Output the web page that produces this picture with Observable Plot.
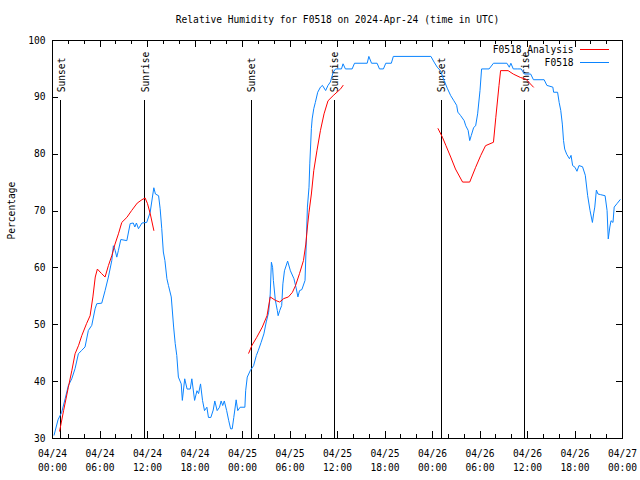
<!DOCTYPE html>
<html><head><meta charset="utf-8">
<script src="https://cdn.jsdelivr.net/npm/d3@7"></script>
<script src="https://cdn.jsdelivr.net/npm/@observablehq/plot@0.6"></script>
<style>body{margin:0;background:#fff}</style>
</head><body><div id="chart"></div>
<script>
const titleText = "Relative Humidity for F0518 on 2024-Apr-24 (time in UTC)";
const yLabelText = "Percentage";
const seriesNames = ["F0518_Analysis", "F0518"];
const seriesColors = ["#ff0000", "#0a84ff"];

// hours since 2024-04-24 00:00 UTC
const obsHours = [0.2,0.7,1.16,1.6,2.0,2.43,2.85,3.27,3.69,4.11,4.53,4.96,5.38,5.59,6.22,6.64,7.06,7.49,7.69,7.91,8.12,8.33,8.63,9.39,9.81,10.2,10.4,10.6,10.86,11.3,11.9,12.34,12.68,12.8,13.0,13.4,13.6,13.8,14.0,14.2,14.45,14.65,15.0,15.3,15.5,15.7,15.9,16.26,16.4,16.7,17.0,17.4,17.6,17.95,18.25,18.45,18.7,18.95,19.2,19.5,19.7,20.0,20.3,20.5,20.8,21.1,21.3,21.5,21.7,22.0,22.25,22.5,22.7,22.9,23.2,23.4,23.7,24.3,24.4,24.6,25.0,25.4,25.75,26.0,26.35,26.7,27.0,27.3,27.5,27.65,27.8,27.9,28.15,28.4,28.5,28.7,28.95,29.1,29.3,29.7,30.05,30.5,30.8,31.0,31.2,31.5,31.9,32.2,32.4,32.5,32.7,32.8,33.0,33.2,33.5,33.85,34.1,34.5,34.8,35.1,35.45,35.75,36.5,36.7,37.0,37.85,38.15,39.75,39.96,40.3,41.0,41.3,41.8,42.1,42.8,43.05,47.8,48.2,48.6,49.0,49.45,49.9,50.3,50.7,51.05,51.2,51.55,52.0,52.2,52.5,52.7,52.9,53.2,53.45,53.7,54.0,54.2,55.15,55.7,57.4,57.7,57.9,58.2,58.7,59.2,59.6,60.4,60.75,62.1,62.45,63.2,63.3,63.8,64.0,64.2,64.4,64.55,64.7,64.95,65.3,65.5,65.7,66.0,66.25,66.5,66.95,67.3,67.6,67.9,68.2,68.35,68.5,68.7,68.9,69.2,69.8,70.05,70.2,70.4,70.55,70.8,70.95,71.3,71.7];
const obsValues = [30.6,33.3,34.6,37.0,39.3,40.5,42.3,44.9,45.5,46.1,49.0,49.9,52.8,53.7,53.8,56.0,58.4,61.3,63.9,63.1,61.9,63.1,65.0,64.8,67.8,67.9,67.2,67.9,66.9,67.9,68.0,69.8,73.0,74.1,73.0,72.7,70.4,66.9,62.8,61.3,58.1,56.9,54.9,49.6,46.7,44.6,40.8,39.6,36.7,40.5,38.7,38.7,40.5,36.7,38.4,37.9,39.6,36.7,34.9,35.5,33.7,33.7,35.0,36.6,34.9,35.5,36.6,35.8,36.6,34.9,33.2,31.7,31.7,33.7,36.8,34.9,35.5,35.5,38.4,40.8,42.0,42.8,44.6,45.5,46.9,48.4,50.5,52.2,55.4,61.0,60.1,57.8,54.3,52.5,51.6,52.5,53.4,57.2,59.5,61.2,59.5,58.1,56.3,54.9,56.0,56.2,57.8,70.7,74.2,78.3,84.5,86.2,88.0,89.1,90.9,91.8,92.1,91.2,92.1,92.7,94.4,95.0,95.0,95.9,95.0,95.0,96.0,96.0,97.2,96.0,96.0,95.0,95.0,96.0,96.0,97.2,97.2,96.2,95.3,94.7,93.0,91.5,90.3,89.4,88.6,87.4,86.8,85.9,85.0,84.2,82.4,83.3,84.7,85.0,87.1,91.2,95.0,95.0,96.0,96.0,95.3,96.0,95.0,95.0,95.0,94.1,94.1,93.1,93.1,92.1,91.8,90.9,90.9,89.1,87.7,85.3,82.4,80.9,80.0,79.2,79.8,78.0,77.7,77.0,78.0,77.8,76.3,72.7,70.1,68.0,69.5,70.7,73.7,73.0,72.9,72.7,70.1,65.1,67.2,68.3,68.0,70.7,71.3,72.0];

const anaHours = [0.9,1.4,2.0,2.45,2.85,3.3,3.7,4.3,4.75,5.1,5.4,5.67,6.2,6.64,7.06,7.5,7.9,8.33,8.75,9.4,10.0,10.7,11.3,11.7,12.0,12.35,12.8,
  24.78,25.2,25.8,26.5,27.1,27.5,28.15,28.7,29.2,29.8,30.3,30.7,31.2,31.7,32.0,32.2,32.4,32.7,33.0,33.4,33.85,34.3,34.8,35.45,36.4,36.7,
  48.7,49.25,49.7,50.3,50.9,51.8,52.7,53.45,54.1,54.7,55.7,56.0,56.4,56.6,57.55,58.2,59.1,59.8,60.75];
const anaValues = [31.3,34.9,39.0,42.0,44.9,46.4,48.1,50.2,51.6,54.9,58.4,59.8,59.0,58.4,60.4,62.2,64.2,66.0,68.0,68.9,70.1,71.4,72.0,72.3,71.3,69.5,66.6,
  45.0,46.4,47.8,49.6,51.6,54.9,54.3,54.0,54.6,54.9,55.7,56.9,59.0,61.3,64.2,67.2,69.8,73.0,77.1,80.6,84.2,87.1,89.4,90.3,91.5,92.1,
  84.5,83.0,81.5,79.5,77.4,75.1,75.1,77.7,79.8,81.5,82.1,86.5,92.1,94.7,94.7,94.1,93.5,93.2,91.8];
const anaRun = [...Array(27).fill(1), ...Array(26).fill(2), ...Array(22).fill(3)];

const sunHours = [1.04, 11.62, 25.08, 35.58, 49.12, 59.62];
const sunLabels = ["Sunset", "Sunrise", "Sunset", "Sunrise", "Sunset", "Sunrise"];
const sunLineTop = 89.5;
const sunLabelY = 90.9;

const xMajorHours = d3.range(0, 73, 6);
const xMinorHours = d3.range(0, 73, 2);
const yTicks = d3.range(30, 101, 10);

const startUTC = Date.UTC(2024, 3, 24);
const toDate = h => new Date(startUTC + h * 3600e3);
const obs = obsHours.map((h, i) => ({t: toDate(h), v: obsValues[i]}));
const ana = anaHours.map((h, i) => ({t: toDate(h), v: anaValues[i], run: anaRun[i]}));
const sun = sunHours.map((h, i) => ({t: toDate(h), label: sunLabels[i]}));

const W = 640, H = 480, mT = 40, mB = 42, mL = 52, mR = 18;
const frameW = W - mL - mR, frameH = H - mT - mB;
const yPerPx = 70 / frameH, hPerPx = 72 / frameW;
const majorLen = 7 * yPerPx, minorLen = 4 * yPerPx, yTickLen = 6 * hPerPx;

const tickRows = [
  ...xMajorHours.map(h => ({t: toDate(h), a: 30, b: 30 + majorLen})),
  ...xMinorHours.map(h => ({t: toDate(h), a: 30, b: 30 + minorLen})),
  ...xMajorHours.map(h => ({t: toDate(h), a: 100, b: 100 - majorLen})),
  ...xMinorHours.map(h => ({t: toDate(h), a: 100, b: 100 - minorLen}))
];
const yTickRows = [
  ...yTicks.map(v => ({v, a: toDate(0), b: toDate(yTickLen)})),
  ...yTicks.map(v => ({v, a: toDate(72), b: toDate(72 - yTickLen)}))
];

const font = "DejaVu Sans Mono";
const plot = Plot.plot({
  width: W, height: H,
  marginTop: mT, marginBottom: mB, marginLeft: mL, marginRight: mR,
  style: {fontFamily: font, fontSize: "9.6px", background: "#fff", color: "#000", overflow: "visible"},
  x: {type: "utc", domain: [toDate(0), toDate(72)]},
  y: {domain: [30, 100]},
  marks: [
    Plot.axisX(xMajorHours.map(toDate), {anchor: "bottom", tickSize: 0, tickPadding: 9, tickFormat: d3.utcFormat("%m/%d\n%H:%M"), lineHeight: 1.45, label: null}),
    Plot.axisY(yTicks, {anchor: "left", tickSize: 0, tickPadding: 7, label: null}),
    Plot.ruleX(tickRows, {x: "t", y1: "a", y2: "b", stroke: "#000", strokeWidth: 1, shapeRendering: "crispEdges"}),
    Plot.ruleY(yTickRows, {y: "v", x1: "a", x2: "b", stroke: "#000", strokeWidth: 1, shapeRendering: "crispEdges"}),
    Plot.ruleX(sun, {x: "t", y1: 30, y2: sunLineTop, stroke: "#000", shapeRendering: "crispEdges"}),
    Plot.text(sun, {x: "t", y: sunLabelY, text: "label", rotate: -90, textAnchor: "start", lineAnchor: "middle", dx: 1, fill: "#000"}),
    Plot.line(obs, {x: "t", y: "v", stroke: seriesColors[1], strokeWidth: 1}),
    Plot.line(ana, {x: "t", y: "v", z: "run", stroke: seriesColors[0], strokeWidth: 1}),
    Plot.frame({stroke: "#000", shapeRendering: "crispEdges"}),
    Plot.text([titleText], {frameAnchor: "top", dy: -21, lineAnchor: "middle", fill: "#000"}),
    Plot.text([yLabelText], {frameAnchor: "left", dx: -41, rotate: -90, lineAnchor: "middle", fill: "#000"}),
    Plot.text([seriesNames[0]], {frameAnchor: "top-right", dx: -49, dy: 9.5, textAnchor: "end", lineAnchor: "middle", fill: "#000"}),
    Plot.text([seriesNames[1]], {frameAnchor: "top-right", dx: -49, dy: 22.3, textAnchor: "end", lineAnchor: "middle", fill: "#000"})
  ]
});
document.getElementById("chart").appendChild(plot);

// legend line samples (inside the top-right of the frame)
const legend = d3.select(plot).append("g");
seriesNames.forEach((name, i) => {
  legend.append("line")
    .attr("x1", 580).attr("x2", 609)
    .attr("y1", 49.5 + i * 12.8).attr("y2", 49.5 + i * 12.8)
    .attr("stroke", seriesColors[i]).attr("stroke-width", 1)
    .attr("shape-rendering", "crispEdges");
});
</script>
</body></html>
